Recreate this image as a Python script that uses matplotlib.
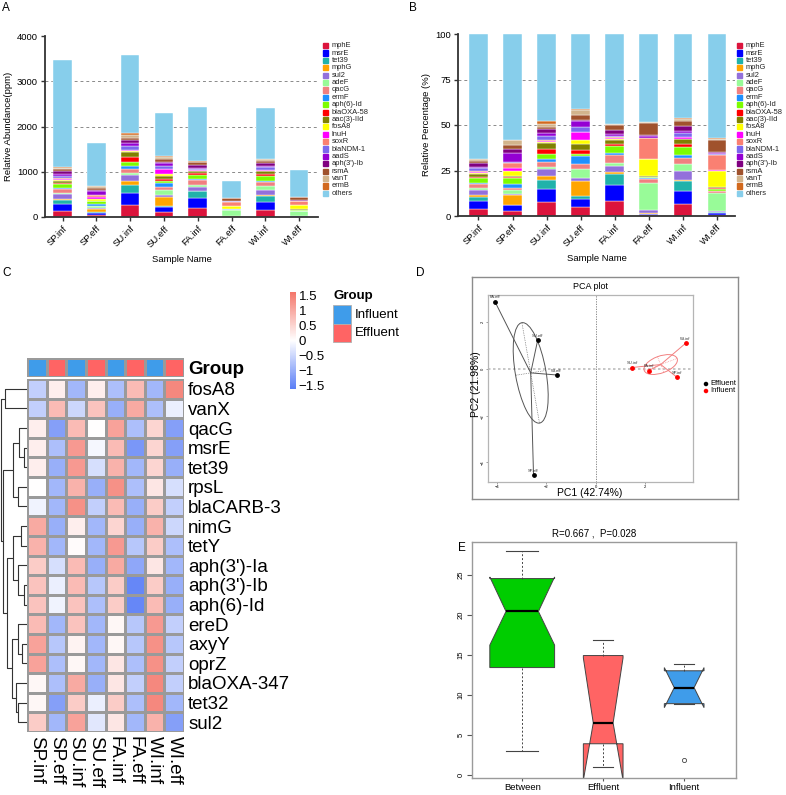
import numpy as np
import matplotlib.pyplot as plt
from matplotlib.colors import LinearSegmentedColormap, ListedColormap, Normalize
from matplotlib.patches import Rectangle, Ellipse
from matplotlib.cm import ScalarMappable

plt.rcParams['font.family'] = ['Liberation Sans', 'DejaVu Sans']

W, H = 786, 795

samples = ['SP.inf', 'SP.eff', 'SU.inf', 'SU.eff', 'FA.inf', 'FA.eff', 'WI.inf', 'WI.eff']
genes = ['mphE', 'msrE', 'tet39', 'mphG', 'sul2', 'adeF', 'qacG', 'ermF', 'aph(6)-Id',
         'blaOXA-58', 'aac(3)-IId', 'fosA8', 'lnuH', 'soxR', 'blaNDM-1', 'aadS',
         "aph(3')-Ib", 'rsmA', 'vanT', 'ermB', 'others']
gene_colors = ['#DC143C', '#0000FF', '#20B2AA', '#FFA500', '#9370DB', '#98FB98', '#F08080',
               '#1E90FF', '#7CFC00', '#FF0000', '#808000', '#FFFF00', '#FF00FF', '#FA8072',
               '#7B68EE', '#9400D3', '#800080', '#A0522D', '#D2B48C', '#D2691E', '#87CEEB']

# total abundance (ppm) of each sample
totals = [3480, 1640, 3580, 2290, 2420, 800, 2400, 1040]

# share of each gene (%), same order as genes
sp_inf = [3.8, 4.2, 2.6, 0.9, 2.8, 0.9, 2.4, 0.7, 2.7, 0.6, 1.4, 0.6, 0.6, 0.8, 1.2, 0.9, 2.2, 1.1, 0.7, 0.4, 68.5]
sp_eff = [2.8, 3.0, 0.5, 5.0, 1.0, 2.2, 0.8, 2.3, 3.4, 0.5, 0.5, 2.5, 2.0, 2.5, 0.5, 5.0, 2.5, 2.0, 2.7, 0.3, 58.0]
su_inf = [7.5, 7.5, 5.0, 2.0, 4.0, 1.0, 2.7, 1.8, 2.5, 3.0, 3.0, 0.5, 0.7, 0.3, 2.2, 1.8, 2.3, 1.2, 1.5, 1.5, 48.0]
su_eff = [5.0, 4.5, 1.5, 8.0, 2.0, 4.8, 2.7, 4.5, 1.3, 2.2, 3.0, 2.0, 4.5, 0.3, 2.7, 3.0, 1.0, 2.5, 2.8, 0.7, 41.0]
fa_inf = [8.2, 8.8, 6.3, 0.7, 3.3, 1.7, 4.5, 1.0, 4.0, 1.3, 2.0, 0.5, 0.5, 0.4, 1.0, 0.6, 2.5, 2.5, 0.7, 0.3, 49.2]
fa_eff = [0.3, 0.7, 0.3, 0.2, 1.8, 14.9, 2.3, 0.3, 0.7, 0.2, 0.3, 9.3, 0.2, 11.2, 0.3, 1.0, 0.5, 6.7, 0.3, 0.2, 48.3]
wi_inf = [6.7, 7.1, 5.4, 0.6, 5.0, 3.9, 3.3, 1.5, 4.3, 1.7, 2.7, 0.3, 0.8, 0.3, 2.2, 0.8, 3.0, 2.4, 1.5, 0.3, 46.2]
wi_eff = [0.5, 1.0, 0.5, 0.3, 0.5, 9.7, 1.0, 0.3, 1.2, 0.3, 0.7, 9.0, 0.3, 8.2, 0.5, 0.5, 0.8, 6.7, 0.5, 0.3, 57.2]

# heatmap (row z-scores)
heat_genes = ['fosA8', 'vanX', 'qacG', 'msrE', 'tet39', 'rpsL', 'blaCARB-3', 'nimG', 'tetY',
              "aph(3')-Ia", "aph(3')-Ib", 'aph(6)-Id', 'ereD', 'axyY', 'oprZ', 'blaOXA-347',
              'tet32', 'sul2']
zscores = np.array([
    [-0.6, 0.2, -0.9, 0.2, -0.8, 0.8, -0.9, 1.4],
    [-0.6, 0.8, -0.5, 0.7, -1.0, 1.0, -0.8, -0.2],
    [0.2, -1.2, 0.8, 0.0, 1.1, -0.8, 0.5, -1.2],
    [0.2, -0.8, 1.2, -0.1, 0.8, -1.3, 0.5, -1.2],
    [0.2, -1.0, 1.2, -0.4, 0.9, -0.9, 0.5, -1.0],
    [0.0, -0.9, 0.9, -1.0, 1.3, -0.8, 0.3, -0.4],
    [-0.15, -0.9, 1.3, -0.6, 0.8, -1.0, 0.6, -0.6],
    [1.0, -1.0, 0.2, -0.9, 0.5, -1.0, 0.9, -0.5],
    [0.9, -0.9, 0.05, -0.9, 1.2, -0.7, 0.6, -0.8],
    [0.6, -0.4, 0.8, -1.0, 1.0, -1.1, 0.3, -0.9],
    [0.7, -0.2, 0.8, -0.7, 0.6, -1.5, 0.6, -1.0],
    [0.7, -0.15, 0.7, -0.8, 0.6, -1.5, 0.8, -1.0],
    [0.8, -0.9, 0.7, -0.9, 0.1, -0.7, 1.2, -0.6],
    [1.1, -0.7, 0.15, -0.9, 0.1, -0.7, 1.3, -0.7],
    [1.1, -0.8, 0.1, -0.9, 0.3, -0.8, 1.3, -0.6],
    [0.1, -0.8, 1.0, -1.0, 0.3, -0.6, 1.4, -0.6],
    [0.1, -1.2, 0.6, -0.2, 0.6, -0.8, 1.4, -0.9],
    [0.6, -0.9, 1.1, -0.3, 0.3, -0.9, 0.9, -1.2],
])
sample_group = ['Influent', 'Effluent'] * 4
# row dendrogram: (left, right, height), leaves are row indices
row_tree = ((0, 1, 22.0),
            (((2, (3, 4, 3.0), 7.7), (5, 6, 8.7), 13.7),
             (((7, 8, 6.3), (9, (10, 11, 3.0), 8.7), 14.3),
              ((12, (13, 14, 5.3), 8.7), (15, (16, 17, 8.7), 11.0), 15.3), 20.3), 23.7),
            26.0)

# PCA scores
pc1 = [3.29, -2.52, 1.48, -2.35, 2.16, -4.09, 3.66, -1.58]
pc2 = [-0.34, -4.55, 0.06, 1.24, -0.07, 2.89, 1.10, -0.26]

# ANOSIM rank boxplot
box_names = ['Between', 'Effluent', 'Influent']
box_q1 = [13.4, 3.9, 8.9]
box_med = [20.4, 6.5, 10.9]
box_q3 = [24.5, 14.9, 13.0]
box_lo = [3.0, 1.0, 8.9]
box_hi = [27.9, 16.9, 13.9]
box_cilo = [16.2, -0.65, 8.4]
box_cihi = [24.7, 14.6, 13.4]
box_fliers = [[], [], [1.9]]

col_inf = '#3F9CEA'
col_eff = '#FF6464'


def rect(x0, y0, x1, y1):
    return [x0 / W, 1 - y1 / H, (x1 - x0) / W, (y1 - y0) / H]


fig = plt.figure(figsize=(W / 100, H / 100), dpi=100)

for lab, x, y in [('A', 6, 8), ('B', 413, 8), ('C', 7, 273), ('D', 420, 273), ('E', 462, 548)]:
    fig.text(x / W, 1 - y / H, lab, fontsize=8.5, ha='center', va='center')


def gene_legend(x0, y0):
    for i, (g, c) in enumerate(zip(genes, gene_colors)):
        y = y0 + i * 7.38
        fig.patches.append(Rectangle((x0 / W, 1 - (y + 2.6) / H), 5.2 / W, 5.2 / H,
                                     transform=fig.transFigure, color=c))
        fig.text((x0 + 9) / W, 1 - y / H, g, fontsize=5.4, va='center', color='#222222')


def stacked(ax, data, ymax, yticks, ylabel, xlim):
    x = np.arange(len(samples))
    bottom = np.zeros(len(samples))
    for vals, col in zip(data, gene_colors):
        ax.bar(x, vals, 0.55, bottom=bottom, color=col, edgecolor='white', linewidth=0.3)
        bottom += vals
    ax.set_xlim(*xlim)
    ax.set_ylim(0, ymax)
    ax.set_yticks(yticks)
    for t in yticks[1:-1]:
        ax.axhline(t, color='#8a8a8a', lw=0.7, ls=(0, (3, 3)), zorder=0)
    ax.set_xticks(x, samples, rotation=45, ha='right', rotation_mode='anchor')
    for s in ['top', 'right']:
        ax.spines[s].set_visible(False)
    for s in ['left', 'bottom']:
        ax.spines[s].set_linewidth(1.3)
        ax.spines[s].set_color('#333333')
    ax.tick_params(labelsize=6.8, length=3, width=1, color='#333333', pad=2)
    ax.set_ylabel(ylabel, fontsize=6.8, labelpad=3)
    ax.set_xlabel('Sample Name', fontsize=6.8, labelpad=4)


ppm = np.array([sp_inf, sp_eff, su_inf, su_eff, fa_inf, fa_eff, wi_inf, wi_eff]).T / 100 * np.array(totals)
pct = ppm / ppm.sum(axis=0) * 100

axA = fig.add_axes(rect(45, 36, 318, 217))
stacked(axA, ppm, 4000, [0, 1000, 2000, 3000, 4000], 'Relative Abundance(ppm)', (-0.52, 7.56))
gene_legend(323, 45.7)

axB = fig.add_axes(rect(458, 34, 735, 216))
stacked(axB, pct, 100, [0, 25, 50, 75, 100], 'Relative Percentage (%)', (-0.6, 7.53))
gene_legend(737, 45.7)

# ---- C: heatmap
cmap = LinearSegmentedColormap.from_list('bwr2', ['#5A7EF6', '#FFFFFF', '#F4766A'])
norm = Normalize(vmin=-1.62, vmax=1.62)

axH = fig.add_axes(rect(27, 379, 184, 732))
axH.pcolormesh(zscores, cmap=cmap, norm=norm, edgecolors='#9a9a9a', linewidth=0.8)
axH.set_xlim(0, 8)
axH.set_ylim(len(heat_genes), 0)
axH.yaxis.tick_right()
axH.set_yticks(np.arange(len(heat_genes)) + 0.5, heat_genes)
axH.set_xticks(np.arange(8) + 0.5, samples, rotation=270)
axH.tick_params(length=0, labelsize=13.5, pad=3)
for s in axH.spines.values():
    s.set_visible(False)

axG = fig.add_axes(rect(27, 358, 184, 377))
gcode = np.array([[0 if g == 'Influent' else 1 for g in sample_group]])
axG.pcolormesh(gcode, cmap=ListedColormap([col_inf, col_eff]), vmin=0, vmax=1,
               edgecolors='#9a9a9a', linewidth=0.8)
axG.set_xlim(0, 8)
axG.set_xticks([])
axG.yaxis.tick_right()
axG.set_yticks([0.5], ['Group'], fontweight='bold')
axG.tick_params(length=0, labelsize=13.5, pad=3)
for s in axG.spines.values():
    s.set_visible(False)


def draw_tree(ax, node):
    if isinstance(node, int):
        return node + 0.5, 0.0
    left, right, h = node
    yl, hl = draw_tree(ax, left)
    yr, hr = draw_tree(ax, right)
    ax.plot([hl, h, h, hr], [yl, yl, yr, yr], color='#333333', lw=0.8, solid_capstyle='butt')
    return (yl + yr) / 2, h


axD = fig.add_axes(rect(0, 379, 27, 732))
draw_tree(axD, row_tree)
axD.set_xlim(27, 0)
axD.set_ylim(len(heat_genes), 0)
axD.axis('off')

axC = fig.add_axes(rect(290, 292, 296, 389))
cb = fig.colorbar(ScalarMappable(norm=norm, cmap=cmap), cax=axC)
cb.outline.set_visible(False)
cb_ticks = [1.5, 1, 0.5, 0, -0.5, -1, -1.5]
cb.set_ticks(cb_ticks, labels=['1.5', '1', '0.5', '0', '\u22120.5', '\u22121', '\u22121.5'])
axC.tick_params(length=0, labelsize=9.5, pad=2)

fig.text(333 / W, 1 - 296 / H, 'Group', fontsize=9.5, fontweight='bold', va='center')
for i, (lab, c) in enumerate([('Influent', col_inf), ('Effluent', col_eff)]):
    y = 305 + i * 18.5
    fig.patches.append(Rectangle((333 / W, 1 - (y + 18.5) / H), 18 / W, 18.5 / H,
                                 transform=fig.transFigure, facecolor=c,
                                 edgecolor='#b0b0b0', lw=0.6))
    fig.text(355 / W, 1 - (y + 9.5) / H, lab, fontsize=9.5, va='center')

# ---- D: PCA
frame = fig.add_axes(rect(472, 277, 738, 499))
frame.set_xlim(472, 738)
frame.set_ylim(499, 277)
frame.set_xticks([])
frame.set_yticks([])
for s in frame.spines.values():
    s.set_color('#8c8c8c')
    s.set_linewidth(1)
frame.scatter([706, 706], [384, 391], s=5, c=['black', 'red'])
frame.text(710, 384, 'Effluent', fontsize=5.5, va='center')
frame.text(710, 391, 'Influent', fontsize=5.5, va='center')
frame.text(590, 287, 'PCA plot', fontsize=6.5, ha='center', va='center')
frame.text(590, 493, 'PC1 (42.74%)', fontsize=7.5, ha='center', va='center')
frame.text(476, 384, 'PC2 (21.98%)', fontsize=7.5, ha='center', va='center', rotation=90)

axP = fig.add_axes(rect(488, 295, 693, 482))
axP.set_xlim(-4.37, 3.96)
axP.set_ylim(-4.85, 3.17)
axP.axhline(0, color='#bdbdbd', lw=1.2, ls=(0, (1.5, 1.5)), zorder=0)
axP.axvline(0, color='#777777', lw=0.6, ls=(0, (1.5, 1.5)), zorder=0)
pc1a, pc2a = np.array(pc1), np.array(pc2)
grp = np.array(sample_group)
for g, pcol, lcol in [('Effluent', 'black', '#555555'), ('Influent', 'red', '#F28080')]:
    m = grp == g
    xs, ys = pc1a[m], pc2a[m]
    cx, cy = xs.mean(), ys.mean()
    for x, y in zip(xs, ys):
        axP.plot([cx, x], [cy, y], color=lcol, lw=0.7)
    cov = np.cov(xs, ys, bias=True)
    vals, vecs = np.linalg.eigh(cov)
    k = 0.78
    ang = np.degrees(np.arctan2(vecs[1, 1], vecs[0, 1]))
    axP.add_patch(Ellipse((cx, cy), 2 * k * np.sqrt(vals[1]), 2 * k * np.sqrt(vals[0]),
                          angle=ang, fill=False, ec=lcol, lw=0.7))
    for j in range(2):
        d = k * np.sqrt(vals[j]) * vecs[:, j]
        axP.plot([cx - d[0], cx + d[0]], [cy - d[1], cy + d[1]], color=lcol, lw=0.5, ls=(0, (1, 1.5)))
    axP.scatter(xs, ys, s=6, color=pcol, zorder=3)
for x, y, s in zip(pc1, pc2, samples):
    axP.annotate(s, (x, y), xytext=(0, 1.5), textcoords='offset points', fontsize=3,
                 ha='center', va='bottom', color='#333333')
axP.set_xticks([-4, -2, 0, 2])
axP.set_yticks([-4, -2, 0, 2])
axP.tick_params(labelsize=3, length=1.5, width=0.5, pad=1, color='#777777')
axP.tick_params(axis='y', labelrotation=90)
for s in axP.spines.values():
    s.set_color('#b5b5b5')
    s.set_linewidth(0.9)

# ---- E: ANOSIM boxplot
axE = fig.add_axes(rect(472, 542, 736, 778))
stats = []
for i, name in enumerate(box_names):
    stats.append(dict(label=name, q1=box_q1[i], med=box_med[i], q3=box_q3[i],
                      whislo=box_lo[i], whishi=box_hi[i], cilo=box_cilo[i], cihi=box_cihi[i],
                      fliers=box_fliers[i]))
bp = axE.bxp(stats, positions=[1, 2, 3], widths=[0.8, 0.49, 0.49], shownotches=True,
             patch_artist=True,
             boxprops=dict(edgecolor='#444444', lw=0.7),
             whiskerprops=dict(color='#444444', lw=0.7, ls=(0, (2, 2))),
             capprops=dict(color='#444444', lw=0.8),
             medianprops=dict(color='black', lw=1.6),
             flierprops=dict(marker='o', mfc='none', mec='#444444', ms=3, mew=0.6))
for patch, c in zip(bp['boxes'], ['#00CD00', col_eff, col_inf]):
    patch.set_facecolor(c)
axE.set_xlim(0.38, 3.64)
axE.set_ylim(-0.37, 29.06)
axE.set_yticks([0, 5, 10, 15, 20, 25])
axE.tick_params(axis='y', labelsize=5.5, length=3.5, labelrotation=90, color='#555555', pad=2)
axE.tick_params(axis='x', labelsize=6.8, length=2.5, color='#555555', pad=1)
for lbl in axE.get_yticklabels():
    lbl.set_va('center')
for s in axE.spines.values():
    s.set_color('#9a9a9a')
    s.set_linewidth(1)
fig.text(594 / W, 1 - 534 / H, 'R=0.667 ,  P=0.028', fontsize=7, ha='center', va='center')

fig.savefig('out.png', dpi=100)
